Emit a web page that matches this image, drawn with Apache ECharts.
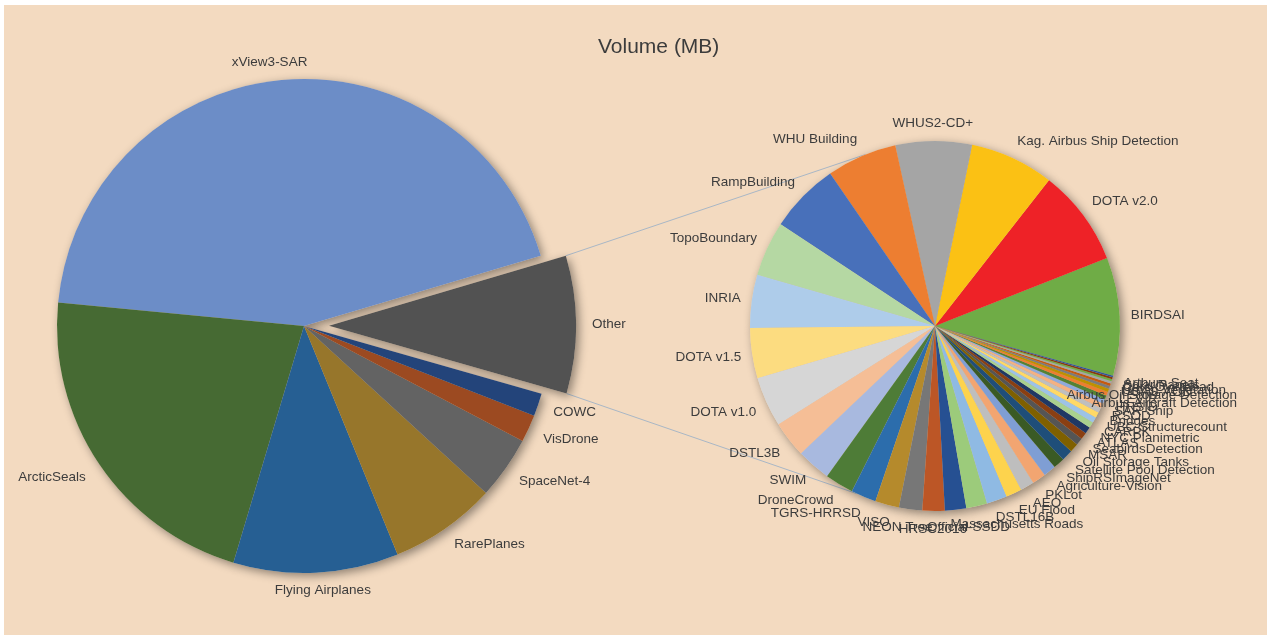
<!DOCTYPE html>
<html><head><meta charset="utf-8">
<script src="https://cdn.jsdelivr.net/npm/echarts@6/dist/echarts.min.js"></script>
<style>
html,body{margin:0;padding:0;background:#fff;width:1267px;height:635px;overflow:hidden}
#chart{position:absolute;left:4px;top:5px;width:1263px;height:630px}
</style></head><body><div id="chart"></div>
<script>
// ---------- data ----------
const titleText = 'Volume (MB)';
const mainNames  = ['xView3-SAR','ArcticSeals','Flying Airplanes','RarePlanes','SpaceNet-4','VisDrone','COWC'];
const mainValues = [439000, 219000, 108000, 70000, 41000, 18000, 15000];
const mainColors = ['#6C8DC7','#466A33','#265F93','#97762B','#636363','#9C4A21','#23447A'];
const otherName  = 'Other';
const otherColor = '#525252';

const detailNames = ['BIRDSAI','DOTA v2.0','Kag. Airbus Ship Detection','WHUS2-CD+','WHU Building','RampBuilding',
  'TopoBoundary','INRIA','DOTA v1.5','DOTA v1.0','DSTL3B','SWIM','DroneCrowd','TGRS-HRRSD','VISO','NEON Tree',
  'HRSC2016','Official-SSDD','Massachusetts Roads','DSTL16B','EU Flood','AEO','PKLot','Agriculture-Vision','ShipRSImageNet',
  'Satellite Pool Detection','Oil Storage Tanks','MSAR','SeabirdsDetection','ATLAS','NYC Planimetric','CARPK',
  'UBC Structurecount','Bridges','RSOD','SAR-Ship','HRSID','Airbus Aircraft Detection','LEVIR',
  'Airbus Oil Storage Detection','UCAS-AOD','Urban Vegetation','Cars Overhead','Solar Panels','Arthurs Seat'];
const detailValues = [9300,7590,6610,6000,5530,5520,4330,4180,3940,3940,2850,2680,2250,1980,1880,1830,
  1750,1680,1640,1610,1250,1080,1070,980,890,880,700,560,540,530,475,450,425,400,375,350,325,300,275,
  225,200,175,175,150,125];
const detailColors = ['#6FAC46','#EE2227','#FBC114','#A5A5A5','#ED7E31','#4870BA','#B5D8A3','#AECCEA','#FCDC80','#D6D6D6',
  '#F5BE96','#A8B9DF','#4E7C37','#2C6DAC','#B58A2C','#777777','#BC5626','#265092','#9CCB7B','#8FBAE3',
  '#FDD34D','#BEBEBE','#F2A571','#7F9ED4','#3A5A25','#1F4E79','#7F6000','#555555','#8A3F12','#203864',
  '#A9D18E','#9DC3E6','#FFD966','#BFBFBF','#F4B183','#8FAADC','#548235','#ED7D31','#BF9000','#7B7B7B',
  '#C55A11','#A5A5A5','#70AD47','#843C0C','#2F5597'];

// ---------- layout ----------
const BG = '#F3DAC0';
const TEXT = '#3C3C3C';
const FONT = 'Liberation Sans, Arial, sans-serif';
const L = {cx: 300, cy: 321, r: 247, start: 16.5, explode: 25, gx: 16, gy: 11};
const R = {cx: 931, cy: 321, r: 185, start: -15.6, gx: 11, gy: 11};
const MAX_RIGHT = 1233;   // labels are kept inside the chart area
const CONNECT_TOP = 112, CONNECT_BOTTOM = 245;
const d2r = Math.PI / 180;

const otherValue = detailValues.reduce((a, b) => a + b, 0);
const leftNames = mainNames.concat([otherName]);
const leftValues = mainValues.concat([otherValue]);
const leftColors = mainColors.concat([otherColor]);
const otherIdx = leftNames.length - 1;

function midAngles(values, start) {
  const total = values.reduce((a, b) => a + b, 0);
  let cum = 0; const mids = [], starts = [], ends = [];
  values.forEach(v => {
    starts.push(start + cum / total * 360);
    mids.push(start + (cum + v / 2) / total * 360);
    cum += v;
    ends.push(start + cum / total * 360);
  });
  return {mids, starts, ends};
}
const leftAng = midAngles(leftValues, L.start);
const rightAng = midAngles(detailValues, R.start);
const otherMid = leftAng.mids[otherIdx] * d2r;
const exDx = L.explode * Math.cos(otherMid), exDy = -L.explode * Math.sin(otherMid);

function clamp(v) { return Math.max(-1, Math.min(1, v)); }
function makeLayout(g, mids, exIdx) {
  return function (p) {
    const a = mids[p.dataIndex] * d2r;
    let px = g.cx + (g.r + g.gx) * Math.cos(a);
    let py = g.cy - (g.r + g.gy) * Math.sin(a);
    if (p.dataIndex === exIdx) { px += exDx; py += exDy; }
    const w = p.labelRect.width, h = p.labelRect.height;
    const fx = clamp(2.5 * Math.cos(a)), fy = clamp(2.0 * Math.sin(a));
    let x = px + fx * w / 2;
    if (x + w / 2 > MAX_RIGHT) x = MAX_RIGHT - w / 2;
    return {x: x, y: py - fy * h / 2, align: 'center', verticalAlign: 'middle'};
  };
}

const shadowStyle = {color: BG, shadowBlur: 10, shadowColor: 'rgba(0,0,0,0.42)', shadowOffsetX: 3, shadowOffsetY: 3, borderWidth: 0};
const labelStyle = {show: true, position: 'outside', color: TEXT, fontFamily: FONT, fontSize: 13.5};

function items(names, values, colors, visible, styleFn) {
  return names.map((n, i) => ({
    name: n, value: values[i],
    itemStyle: visible(i) ? styleFn(i) : {color: 'transparent', borderWidth: 0}
  }));
}
const basePie = {type: 'pie', clockwise: false, avoidLabelOverlap: false, animation: false,
  labelLine: {show: false}, emphasis: {disabled: true}, minAngle: 0};

const series = [
  Object.assign({}, basePie, {z: 1, silent: true, center: [L.cx, L.cy], radius: L.r, startAngle: L.start,
    label: {show: false},
    data: items(leftNames, leftValues, leftColors, i => i !== otherIdx, () => shadowStyle)}),
  Object.assign({}, basePie, {z: 1, silent: true, center: [L.cx + exDx, L.cy + exDy], radius: L.r, startAngle: L.start,
    label: {show: false},
    data: items(leftNames, leftValues, leftColors, i => i === otherIdx, () => shadowStyle)}),
  Object.assign({}, basePie, {z: 1, silent: true, center: [R.cx, R.cy], radius: R.r, startAngle: R.start,
    label: {show: false},
    data: items(detailNames, detailValues, detailColors, () => true, () => shadowStyle)}),
  Object.assign({}, basePie, {z: 3, center: [L.cx, L.cy], radius: L.r, startAngle: L.start,
    label: labelStyle, labelLayout: makeLayout(L, leftAng.mids, otherIdx),
    data: leftNames.map((n, i) => ({name: n, value: leftValues[i],
      itemStyle: i === otherIdx ? {color: 'transparent', borderWidth: 0} : {color: leftColors[i], borderWidth: 0}}))}),
  Object.assign({}, basePie, {z: 3, center: [L.cx + exDx, L.cy + exDy], radius: L.r, startAngle: L.start,
    label: {show: false},
    data: items(leftNames, leftValues, leftColors, i => i === otherIdx, i => ({color: leftColors[i], borderWidth: 0}))}),
  Object.assign({}, basePie, {z: 3, center: [R.cx, R.cy], radius: R.r, startAngle: R.start,
    label: labelStyle, labelLayout: makeLayout(R, rightAng.mids, -1),
    data: items(detailNames, detailValues, detailColors, () => true, i => ({color: detailColors[i], borderWidth: 0}))})
];

const oTop = leftAng.ends[otherIdx] * d2r, oBot = leftAng.starts[otherIdx] * d2r;
function lpt(a) { return [L.cx + exDx + L.r * Math.cos(a), L.cy + exDy - L.r * Math.sin(a)]; }
function rpt(deg) { return [R.cx + R.r * Math.cos(deg * d2r), R.cy - R.r * Math.sin(deg * d2r)]; }
const p1 = lpt(oTop), p2 = rpt(CONNECT_TOP), p3 = lpt(oBot), p4 = rpt(CONNECT_BOTTOM);

const chart = echarts.init(document.getElementById('chart'), null, {renderer: 'canvas'});
chart.setOption({
  backgroundColor: BG,
  animation: false,
  title: {text: titleText, left: 594, top: 32, padding: 0,
    textStyle: {color: TEXT, fontFamily: FONT, fontSize: 21, fontWeight: 'normal'}},
  graphic: [
    {type: 'line', z: 0, silent: true, shape: {x1: p1[0], y1: p1[1], x2: p2[0], y2: p2[1]}, style: {stroke: '#A9B7C6', lineWidth: 1}},
    {type: 'line', z: 0, silent: true, shape: {x1: p3[0], y1: p3[1], x2: p4[0], y2: p4[1]}, style: {stroke: '#A9B7C6', lineWidth: 1}}
  ],
  series: series
});
</script></body></html>
